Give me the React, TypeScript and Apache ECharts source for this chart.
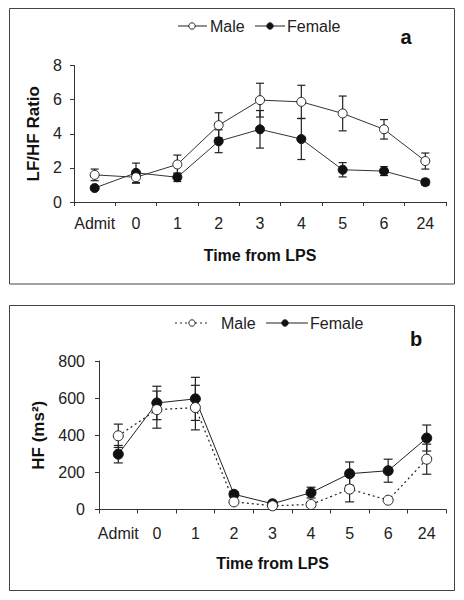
import React, { useEffect, useRef } from "react";
import * as echarts from "echarts";

const categories = ["Admit", "0", "1", "2", "3", "4", "5", "6", "24"];

// Panel a: LF/HF ratio
const maleRatio = [1.59, 1.45, 2.2, 4.5, 5.97, 5.87, 5.19, 4.26, 2.4];
const maleRatioErr = [0.34, 0.35, 0.55, 0.73, 0.99, 0.97, 1.02, 0.57, 0.47];
const femaleRatio = [0.82, 1.71, 1.45, 3.56, 4.26, 3.69, 1.89, 1.81, 1.16];
const femaleRatioErr = [0.1, 0.57, 0.25, 0.67, 1.1, 1.2, 0.42, 0.26, 0.18];

// Panel b: HF (ms²)
const maleHF = [397, 538, 549, 41, 20, 27, 110, 50, 271];
const maleHFErr = [63, 100, 120, 8, 5, 6, 69, 6, 81];
const femaleHF = [298, 574, 596, 82, 31, 91, 193, 209, 385];
const femaleHFErr = [47, 90, 116, 14, 6, 29, 63, 62, 70];

const ratioTicks = { min: 0, max: 8, interval: 2 };
const hfTicks = { min: 0, max: 800, interval: 200 };

const FONT = "'Liberation Sans', Arial, sans-serif";
const INK = "#222";

function errData(vals: number[], errs: number[]) {
  return vals.map((v, i) => [i, v - errs[i], v + errs[i]]);
}

function errRenderer(capHalf: number) {
  return (params: any, api: any) => {
    const x = api.value(0);
    const lo = api.coord([x, api.value(1)]);
    const hi = api.coord([x, api.value(2)]);
    const st = { stroke: "#222", lineWidth: 1.2 };
    return {
      type: "group",
      children: [
        { type: "line", shape: { x1: lo[0], y1: lo[1], x2: hi[0], y2: hi[1] }, style: st },
        { type: "line", shape: { x1: lo[0] - capHalf, y1: lo[1], x2: lo[0] + capHalf, y2: lo[1] }, style: st },
        { type: "line", shape: { x1: hi[0] - capHalf, y1: hi[1], x2: hi[0] + capHalf, y2: hi[1] }, style: st },
      ],
    };
  };
}

function xAxisCfg(gridIndex: number, labelMargin: number, nameGap: number, nameSize: number) {
  return {
    type: "category",
    gridIndex,
    data: categories,
    boundaryGap: true,
    axisLine: { lineStyle: { color: "#333", width: 1 } },
    axisTick: { show: true, inside: false, length: 4, interval: 0, lineStyle: { color: "#333" } },
    axisLabel: { interval: 0, margin: labelMargin, fontSize: 16, color: INK, fontFamily: FONT },
    name: "Time from LPS",
    nameLocation: "middle",
    nameGap,
    nameTextStyle: { fontSize: nameSize, fontWeight: "bold", color: "#111", fontFamily: FONT },
    splitLine: { show: false },
  };
}

function yAxisCfg(gridIndex: number, ticks: any, name: string, nameGap: number, labelMargin: number) {
  return {
    type: "value",
    gridIndex,
    min: ticks.min,
    max: ticks.max,
    interval: ticks.interval,
    axisLine: { show: true, lineStyle: { color: "#333", width: 1 } },
    axisTick: { show: true, inside: false, length: 4, lineStyle: { color: "#333" } },
    axisLabel: { margin: labelMargin, fontSize: 16, color: INK, fontFamily: FONT },
    splitLine: { show: false },
    name,
    nameLocation: "middle",
    nameGap,
    nameRotate: 90,
    nameTextStyle: { fontSize: 17, fontWeight: "bold", color: "#111", fontFamily: FONT },
  };
}

function legendGraphics(
  y: number,
  maleLine: [number, number],
  maleCircle: number,
  maleText: number,
  femaleLine: [number, number],
  femaleCircle: number,
  femaleText: number,
  maleDash: number[] | null
) {
  return [
    {
      type: "line",
      shape: { x1: maleLine[0], y1: y, x2: maleLine[1], y2: y },
      style: { stroke: "#222", lineWidth: 1, lineDash: maleDash || undefined },
    },
    { type: "circle", shape: { cx: maleCircle, cy: y, r: 3.2 }, style: { fill: "#fff", stroke: "#222", lineWidth: 1 } },
    {
      type: "text",
      x: maleText,
      y,
      style: { text: "Male", fontSize: 16, fontFamily: FONT, fill: INK, verticalAlign: "middle", align: "left" },
    },
    { type: "line", shape: { x1: femaleLine[0], y1: y, x2: femaleLine[1], y2: y }, style: { stroke: "#222", lineWidth: 1 } },
    { type: "circle", shape: { cx: femaleCircle, cy: y, r: 3.2 }, style: { fill: "#111", stroke: "#111", lineWidth: 1 } },
    {
      type: "text",
      x: femaleText,
      y,
      style: { text: "Female", fontSize: 16, fontFamily: FONT, fill: INK, verticalAlign: "middle", align: "left" },
    },
  ];
}

export default function App() {
  const ref = useRef<HTMLDivElement>(null);

  useEffect(() => {
    if (!ref.current) return;
    const chart = echarts.init(ref.current, null, { renderer: "svg" });

    const maleItem = (size: number) => ({
      symbol: "circle",
      symbolSize: size,
      itemStyle: { color: "#fff", borderColor: "#222", borderWidth: 1 },
    });
    const femaleItem = (size: number) => ({
      symbol: "circle",
      symbolSize: size,
      itemStyle: { color: "#111", borderColor: "#111", borderWidth: 1 },
    });

    chart.setOption({
      animation: false,
      backgroundColor: "#fff",
      textStyle: { fontFamily: FONT },
      grid: [
        { left: 74, right: 18, top: 65.5, bottom: 600 - 202, containLabel: false },
        { left: 99, right: 18, top: 361, bottom: 600 - 509.5, containLabel: false },
      ],
      xAxis: [xAxisCfg(0, 13, 45, 16), xAxisCfg(1, 16, 46, 16)],
      yAxis: [
        yAxisCfg(0, ratioTicks, "LF/HF Ratio", 30, 12),
        yAxisCfg(1, hfTicks, "HF (ms²)", 49, 14),
      ],
      series: [
        {
          type: "custom",
          name: "Male err a",
          xAxisIndex: 0,
          yAxisIndex: 0,
          renderItem: errRenderer(4),
          data: errData(maleRatio, maleRatioErr),
          encode: { x: 0, y: [1, 2] },
          z: 1,
          silent: true,
        },
        {
          type: "custom",
          name: "Female err a",
          xAxisIndex: 0,
          yAxisIndex: 0,
          renderItem: errRenderer(4),
          data: errData(femaleRatio, femaleRatioErr),
          encode: { x: 0, y: [1, 2] },
          z: 1,
          silent: true,
        },
        {
          type: "line",
          name: "Male",
          xAxisIndex: 0,
          yAxisIndex: 0,
          data: maleRatio,
          lineStyle: { color: "#333", width: 1 },
          ...maleItem(9),
          z: 3,
        },
        {
          type: "line",
          name: "Female",
          xAxisIndex: 0,
          yAxisIndex: 0,
          data: femaleRatio,
          lineStyle: { color: "#333", width: 1 },
          ...femaleItem(9),
          z: 2,
        },
        {
          type: "custom",
          name: "Male err b",
          xAxisIndex: 1,
          yAxisIndex: 1,
          renderItem: errRenderer(4.5),
          data: errData(maleHF, maleHFErr),
          encode: { x: 0, y: [1, 2] },
          z: 1,
          silent: true,
        },
        {
          type: "custom",
          name: "Female err b",
          xAxisIndex: 1,
          yAxisIndex: 1,
          renderItem: errRenderer(4.5),
          data: errData(femaleHF, femaleHFErr),
          encode: { x: 0, y: [1, 2] },
          z: 1,
          silent: true,
        },
        {
          type: "line",
          name: "Male",
          xAxisIndex: 1,
          yAxisIndex: 1,
          data: maleHF,
          lineStyle: { color: "#222", width: 1.2, type: [2, 3] },
          ...maleItem(10),
          z: 3,
        },
        {
          type: "line",
          name: "Female",
          xAxisIndex: 1,
          yAxisIndex: 1,
          data: femaleHF,
          lineStyle: { color: "#222", width: 1 },
          ...femaleItem(10),
          z: 2,
        },
      ],
      graphic: [
        { type: "rect", shape: { x: 9.5, y: 8.5, width: 445, height: 275.5 }, style: { fill: "none", stroke: "#444", lineWidth: 1 } },
        { type: "rect", shape: { x: 9.5, y: 305.5, width: 445, height: 285 }, style: { fill: "none", stroke: "#444", lineWidth: 1 } },
        ...legendGraphics(26, [178, 207], 192, 210, [255, 285], 270, 287, null),
        ...legendGraphics(323, [175, 210], 192, 221, [266, 308], 285, 310, [2, 3]),
        {
          type: "text",
          x: 406,
          y: 37,
          style: { text: "a", fontSize: 20, fontWeight: "bold", fontFamily: FONT, fill: "#111", align: "center", verticalAlign: "middle" },
        },
        {
          type: "text",
          x: 416,
          y: 339,
          style: { text: "b", fontSize: 20, fontWeight: "bold", fontFamily: FONT, fill: "#111", align: "center", verticalAlign: "middle" },
        },
      ],
    });

    return () => chart.dispose();
  }, []);

  return (
    <div
      ref={ref}
      style={{ position: "fixed", left: 0, top: 0, width: 464, height: 600, background: "#fff" }}
    />
  );
}
